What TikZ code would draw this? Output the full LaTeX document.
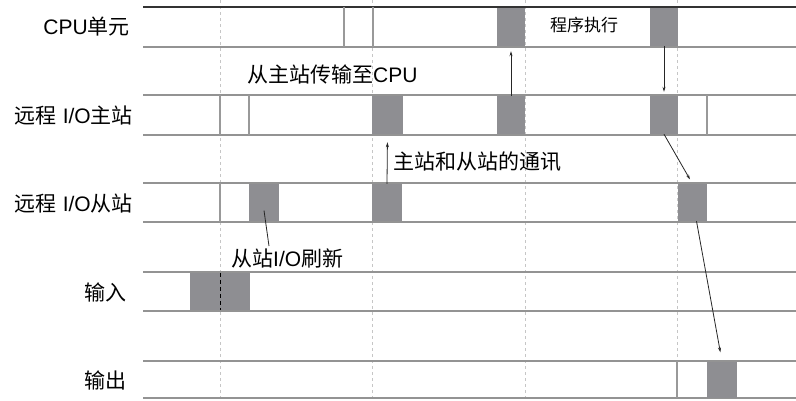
\documentclass[tikz,border=0pt]{standalone}
\usepackage{fontspec}
\setmainfont{Liberation Sans}
\newfontfamily\cjk{Noto Sans CJK SC}
\usetikzlibrary{arrows.meta}

\definecolor{blkgray}{RGB}{142,142,146}

\begin{document}
\begin{tikzpicture}[
  x=1pt, y=-1pt,
  font=\fontsize{21}{24}\selectfont,
  arr/.style={-{Stealth[length=5pt,width=3pt]}, line width=0.8pt, gray!30!black},
  rowline/.style={line width=1.8pt, gray!85},
  divider/.style={line width=1.2pt, gray!80},
  guide/.style={line width=1pt, gray!45, dash pattern=on 3pt off 3pt},
  blk/.style={rectangle, fill=blkgray, draw=none, inner sep=0pt},
  rowlbl/.style={anchor=east, inner sep=0pt},
  note/.style={anchor=west, inner sep=0pt},
]
\useasboundingbox (0,0) rectangle (796,400);

%% ===== Guides =====
\foreach \gx in {220,372,525,677}
  \draw[guide] (\gx,0) -- (\gx,400);

%% ===== Rows =====
\foreach \ytop/\ybot in {7/47, 95/135, 183/222, 272/311, 361/398}{
  \draw[rowline] (143,\ytop) -- (796,\ytop);
  \draw[rowline] (143,\ybot) -- (796,\ybot);
}
\draw[line width=1.8pt, gray!40!black] (143,7) -- (796,7);

%% ===== Row labels =====
\node[rowlbl] (lcpu) at (130,27) {CPU{\cjk 单元}};
\node[rowlbl] (lmst) at (133,115) {{\cjk 远程} I/O{\cjk 主站}};
\node[rowlbl] (lslv) at (133,203) {{\cjk 远程} I/O{\cjk 从站}};
\node[rowlbl] (lin)  at (127,292) {\cjk 输入};
\node[rowlbl] (lout) at (127,380) {\cjk 输出};

%% ===== Dividers =====
\draw[divider] (344,7) -- (344,47);
\draw[divider] (373,7) -- (373,47);
\draw[divider] (220,95) -- (220,135);
\draw[divider] (249,95) -- (249,135);
\draw[divider] (707,95) -- (707,135);
\draw[divider] (220,183) -- (220,222);
\draw[divider] (677,361) -- (677,398);

%% ===== Blocks =====
% CPU
\node[blk, minimum width=28pt, minimum height=38pt] (c1) at (511,27) {};
\node[blk, minimum width=28pt, minimum height=38pt] (c2) at (664,27) {};
\node[font=\cjk\fontsize{17}{20}\selectfont] (prog) at (584,25) {程序执行};
% master
\node[blk, minimum width=31pt, minimum height=38pt] (m1) at (387.5,115) {};
\node[blk, minimum width=28pt, minimum height=38pt] (m2) at (511,115) {};
\node[blk, minimum width=28pt, minimum height=38pt] (m3) at (664,115) {};
% slave
\node[blk, minimum width=30pt, minimum height=37pt] (s1) at (264,202.5) {};
\node[blk, minimum width=30pt, minimum height=37pt] (s2) at (387,202.5) {};
\node[blk, minimum width=29pt, minimum height=37pt] (s3) at (692.5,202.5) {};
% input / output
\node[blk, minimum width=60pt, minimum height=37pt] (i1) at (220,291.5) {};
\draw[line width=0.8pt, black, dash pattern=on 4pt off 3pt] (i1.north) -- (i1.south);
\node[blk, minimum width=30pt, minimum height=36pt] (o1) at (722,379.5) {};

%% ===== Notes =====
\node[note] (n1) at (247,74) {{\cjk 从主站传输至}CPU};
\node[note] (n2) at (393,162) {\cjk 主站和从站的通讯};
\node[note] (n3) at (231,258) {{\cjk 从站}I/O{\cjk 刷新}};
\coordinate (n3top) at (269,246);

%% ===== Arrows =====
\draw[arr, shorten >=5pt] (m2.north) -- (c1.south);
\draw[arr, shorten >=4pt] (c2.south) -- (m3.north);
\draw[arr, shorten >=8pt] (s2.north) -- (m1.south);
\draw[arr, shorten >=5pt] (m3.south) -- (s3.north);
\draw[arr, shorten >=9pt] ([xshift=4pt]s3.south) -- (o1.north);
\draw[line width=0.8pt, gray!30!black] ([yshift=-8pt]s1.center) -- (n3top);

\end{tikzpicture}
\end{document}
